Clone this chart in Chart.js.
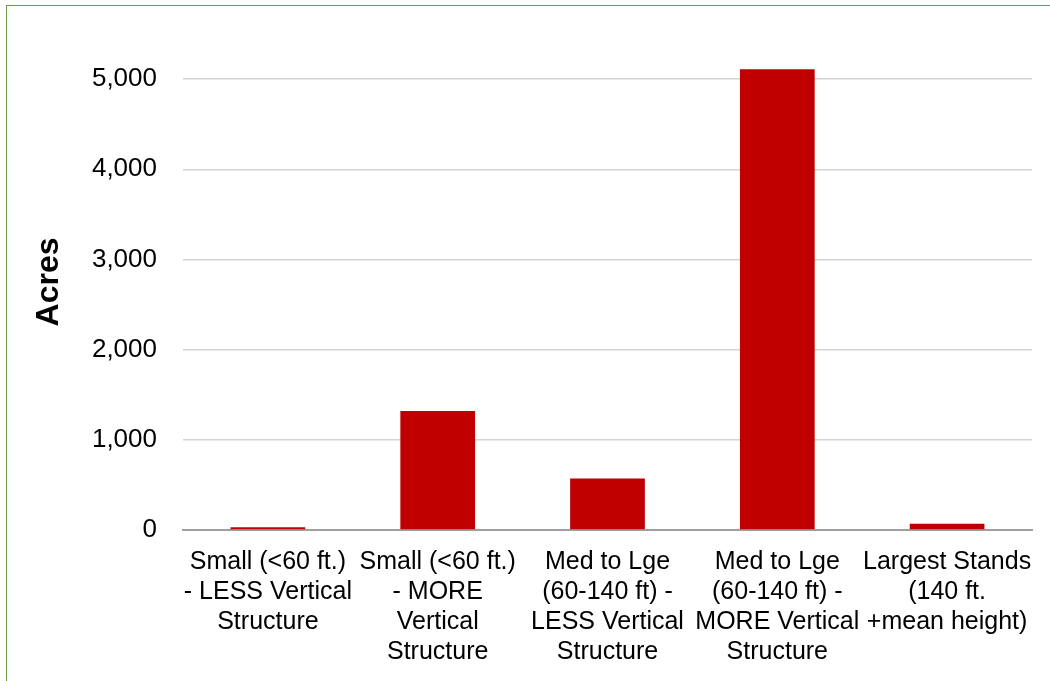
<!DOCTYPE html>
<html>
<head>
<meta charset="utf-8">
<script src="https://cdn.jsdelivr.net/npm/chart.js@4.4.1/dist/chart.umd.min.js"></script>
<style>
    html, body { margin: 0; padding: 0; background: #fff; }
    #wrap {
        position: relative;
        width: 1050px;
        height: 681px;
        overflow: hidden;
    }
    #frame {
        position: absolute;
        left: 6px;
        top: 5px;
        right: 0;
        bottom: -2px;
        border-left: 1.5px solid #6b9a48;
        border-top: 1.5px solid #6b9a48;
        pointer-events: none;
    }
    #acresChart { position: absolute; left: 0; top: 0; }
</style>
</head>
<body>
<div id="wrap">
    <canvas id="acresChart" width="1050" height="681"></canvas>
    <div id="frame"></div>
</div>
<script>
// Stand size / structure classes
const categories = [
    ['Small (<60 ft.)', '- LESS Vertical', 'Structure'],
    ['Small (<60 ft.)', '- MORE', 'Vertical', 'Structure'],
    ['Med to Lge', '(60-140 ft) -', 'LESS Vertical', 'Structure'],
    ['Med to Lge', '(60-140 ft) -', 'MORE Vertical', 'Structure'],
    ['Largest Stands', '(140 ft.', '+mean height)']
];

// Acres in each class
const acres = [30, 1320, 570, 5110, 70];

// Value axis ticks
const yTicks = [0, 1000, 2000, 3000, 4000, 5000];

const fontFamily = "'Liberation Sans', Arial, sans-serif";

document.addEventListener('DOMContentLoaded', function() {
    const ctx = document.getElementById('acresChart').getContext('2d');

    new Chart(ctx, {
        type: 'bar',
        data: {
            labels: categories,
            datasets: [{
                label: 'Acres',
                data: acres,
                backgroundColor: '#c00000',
                borderWidth: 0,
                categoryPercentage: 1,
                barPercentage: 0.44
            }]
        },
        options: {
            responsive: false,
            animation: false,
            layout: {
                padding: { top: 34, right: 18, bottom: 0, left: 30 }
            },
            plugins: {
                legend: { display: false },
                tooltip: { enabled: false }
            },
            scales: {
                x: {
                    grid: { display: false },
                    border: { color: '#a0a0a0', width: 2 },
                    ticks: {
                        color: '#000',
                        maxRotation: 0,
                        autoSkip: false,
                        padding: 9,
                        font: { family: fontFamily, size: 25, lineHeight: 1.2 }
                    },
                    afterFit: function(scale) {
                        scale.height = 151;
                    }
                },
                y: {
                    min: 0,
                    max: 5500,
                    afterBuildTicks: function(scale) {
                        scale.ticks = yTicks.map(v => ({ value: v }));
                    },
                    grid: {
                        color: '#d4d4d4',
                        lineWidth: 1.5,
                        drawTicks: false
                    },
                    border: { display: false },
                    ticks: {
                        color: '#000',
                        padding: 26,
                        font: { family: fontFamily, size: 26 },
                        callback: function(value) {
                            return value.toLocaleString('en-US');
                        }
                    },
                    title: {
                        display: true,
                        text: 'Acres',
                        color: '#000',
                        padding: { top: 0, bottom: 0 },
                        font: { family: fontFamily, size: 32, weight: 'bold' }
                    },
                    afterFit: function(scale) {
                        scale.width = 153;
                        // the top tick sits below the axis max, so no label overhang
                        scale.paddingTop = 0;
                    }
                }
            }
        }
    });
});
</script>
</body>
</html>
